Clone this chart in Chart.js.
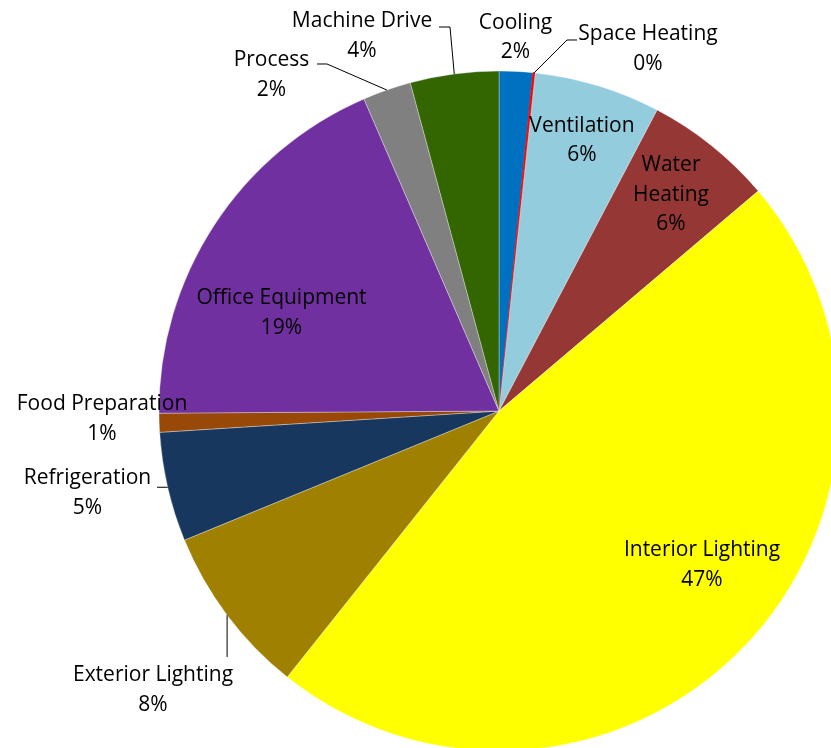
<!DOCTYPE html>
<html>
<head>
<meta charset="utf-8">
<script src="https://cdn.jsdelivr.net/npm/chart.js@4.4.1/dist/chart.umd.min.js"></script>
<style>
  html, body { margin: 0; padding: 0; background: #fff; overflow: hidden; }
  #wrap { width: 998px; height: 822px; }
</style>
</head>
<body>
<div id="wrap"><canvas id="pie" width="998" height="822"></canvas></div>
<script>
'use strict';

/* ── DATA ── */
const categories = [
  'Cooling', 'Space Heating', 'Ventilation', 'Water Heating', 'Interior Lighting',
  'Exterior Lighting', 'Refrigeration', 'Food Preparation', 'Office Equipment',
  'Process', 'Machine Drive',
];
const shares = [1.6, 0.1, 6.0, 6.1, 46.9, 8.1, 5.2, 0.9, 18.6, 2.3, 4.2];
const sliceColors = [
  '#0070C0', '#FF0000', '#93CDDD', '#953735', '#FFFF00',
  '#A08000', '#17375E', '#984807', '#7030A0', '#808080', '#336600',
];

/* ── LABEL LAYOUT (fractions of the radius, from the pie centre) ── */
const labelText = {
  3: 'Water\nHeating',
};
const labelPos = [
  [0.0485, -1.1044], [0.4382, -1.0706], [0.2441, -0.8015], [0.5059, -0.6426],
  [0.597, 0.4471], [-1.0176, 0.8147], [-1.2103, 0.2353], [-1.1676, 0.0176],
  [-0.6397, -0.2941], [-0.6691, -0.9941], [-0.4029, -1.1088],
];
/* leader points after the slice edge; null = keep previous coordinate */
const leaders = {
  1: [[0.2, -1.0912], [0.2294, -1.0912]],
  5: [[null, 0.7235]],
  6: [[-1.0059, null]],
  9: [[-0.5059, -1.0206], [-0.5353, -1.0206]],
  10: [[-0.1441, -1.1294], [-0.1765, -1.1294]],
};

const FONT = '21px "Open Sans"';
const LINE_H = 29.5;

const total = shares.reduce((a, b) => a + b, 0);
const pct = v => Math.round(v / total * 100) + '%';

const pieLabels = {
  id: 'pieLabels',
  afterDatasetsDraw(chart) {
    const ctx = chart.ctx;
    const meta = chart.getDatasetMeta(0);
    ctx.save();
    ctx.font = FONT;
    ctx.fillStyle = '#000';
    ctx.strokeStyle = '#000';
    ctx.lineWidth = 1;
    ctx.textAlign = 'center';
    ctx.textBaseline = 'alphabetic';
    const capH = ctx.measureText('H').actualBoundingBoxAscent;

    meta.data.forEach((arc, i) => {
      const { x, y, startAngle, endAngle, outerRadius: R } = arc.getProps(
        ['x', 'y', 'startAngle', 'endAngle', 'outerRadius'], true);
      const mid = (startAngle + endAngle) / 2;

      /* leader line */
      if (leaders[i]) {
        let px = x + Math.cos(mid) * R;
        let py = y + Math.sin(mid) * R;
        ctx.beginPath();
        ctx.moveTo(px, py);
        leaders[i].forEach(([fx, fy]) => {
          if (fx !== null) px = x + fx * R;
          if (fy !== null) py = y + fy * R;
          ctx.lineTo(px, py);
        });
        ctx.stroke();
      }

      /* text */
      const lines = (labelText[i] || categories[i]).split('\n').concat(pct(shares[i]));
      const cx = x + labelPos[i][0] * R;
      const cy = y + labelPos[i][1] * R;
      const top = cy - (lines.length - 1) * LINE_H / 2;
      lines.forEach((t, k) => {
        ctx.fillText(t, cx, top + k * LINE_H + capH / 2);
      });
    });
    ctx.restore();
  },
};

new Chart(document.getElementById('pie'), {
  type: 'pie',
  data: {
    labels: categories,
    datasets: [{
      data: shares,
      backgroundColor: sliceColors,
      borderColor: sliceColors.map((c, i) => (i === 1 ? '#FF0000' : 'rgba(255,255,255,0.55)')),
      borderWidth: shares.map((v, i) => (i === 1 ? 1 : 0.6)),
    }],
  },
  options: {
    responsive: false,
    animation: false,
    radius: 340,
    layout: { padding: 0 },
    plugins: {
      legend: { display: false },
      tooltip: { enabled: false },
    },
  },
  plugins: [pieLabels],
});
</script>
</body>
</html>
